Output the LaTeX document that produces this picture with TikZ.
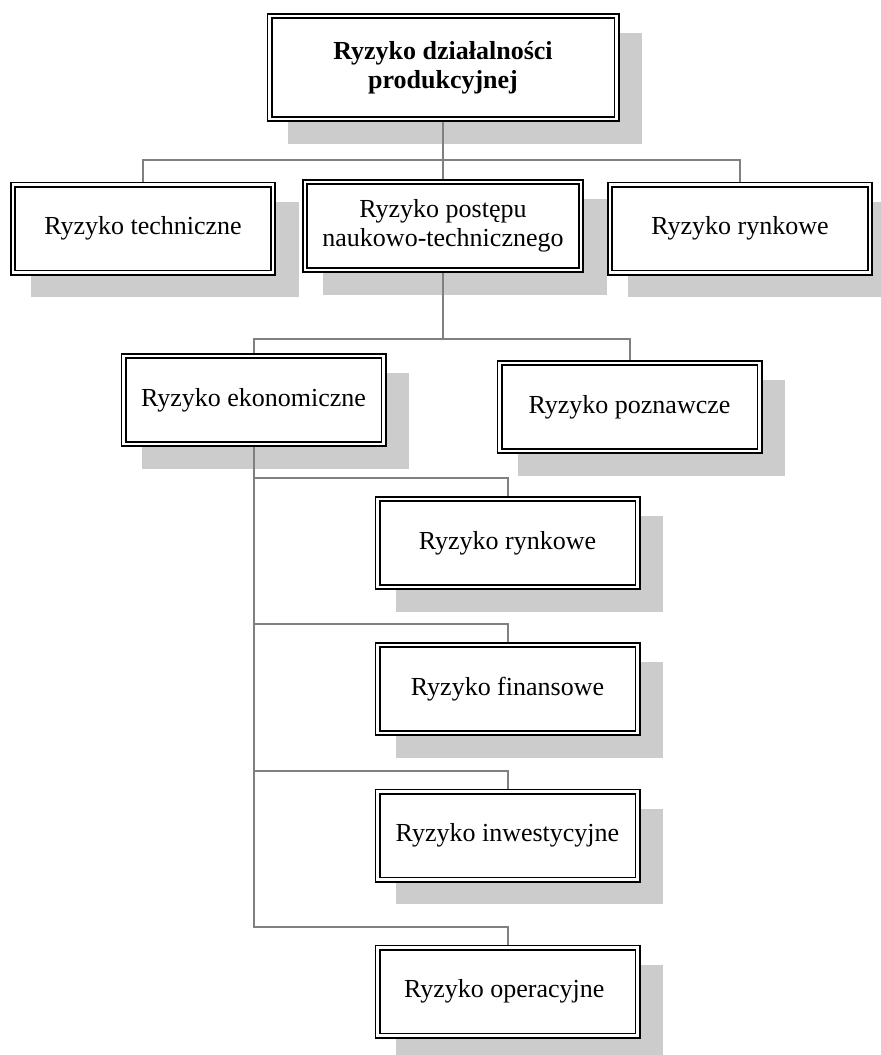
\documentclass[tikz,border=0pt]{standalone}
\usepackage{fontspec}
\setmainfont{Liberation Serif}
\definecolor{shadowgray}{RGB}{204,204,204}
\definecolor{linkgray}{RGB}{128,128,128}
\usetikzlibrary{backgrounds}

\begin{document}
\begin{tikzpicture}[x=0.5pt, y=-0.5pt,
          every node/.style={align=center},
          riskbox/.style={draw=black, line width=0.85pt, double=white,
            double distance=1.3pt, fill=white, inner sep=0pt,
            minimum width=130pt, minimum height=44pt,
            font=\fontsize{13}{14.5}\selectfont},
          link/.style={draw=linkgray, line width=1pt}]
  \useasboundingbox (0,0) rectangle (881,1055);
  % top level
  \node[riskbox, minimum width=173.5pt, minimum height=51.5pt,
        font=\fontsize{13}{14.5}\selectfont\bfseries] (main) at (443,67.5)
    {Ryzyko działalności\\produkcyjnej};
  % second level
  \node[riskbox] (tech) at (143,228.5) {Ryzyko techniczne};
  \node[riskbox, minimum width=138pt] (postep) at (443,226)
    {Ryzyko postępu\\naukowo-technicznego};
  \node[riskbox] (rynek) at (740,228.5) {Ryzyko rynkowe};
  % third level
  \node[riskbox] (ekon) at (253.5,400) {Ryzyko ekonomiczne};
  \node[riskbox] (pozn) at (629.5,407) {Ryzyko poznawcze};
  % kinds of economic risk
  \foreach \n/\y/\lbl in {
    rynek2/543/Ryzyko rynkowe,
    fin/689/Ryzyko finansowe,
    inw/835.5/Ryzyko inwestycyjne,
    oper/991.5/Ryzyko operacyjne
  }{
    \node[riskbox] (\n) at (507.5,\y) {\lbl};
  }
  \begin{scope}[on background layer]
    \foreach \n in {main,tech,postep,rynek,ekon,pozn,rynek2,fin,inw,oper}
      \fill[shadowgray] ([shift={(19,18)}]\n.north west)
        rectangle ([shift={(25,24)}]\n.south east);
    \coordinate (b1) at (443,160);
    \coordinate (b2) at (443,339);
    \draw[link] (main.south) -- (b1);
    \draw[link] (b1) -| (tech.north);
    \draw[link] (b1) -| (rynek.north);
    \draw[link] (b1) -- (postep.north);
    \draw[link] (postep.south) -- (b2);
    \draw[link] (b2) -| (ekon.north);
    \draw[link] (b2) -| (pozn.north);
    \foreach \n in {rynek2,fin,inw,oper}
      \draw[link] (ekon.south) |- ([yshift=10pt]\n.north) -- (\n.north);
  \end{scope}
\end{tikzpicture}
\end{document}
